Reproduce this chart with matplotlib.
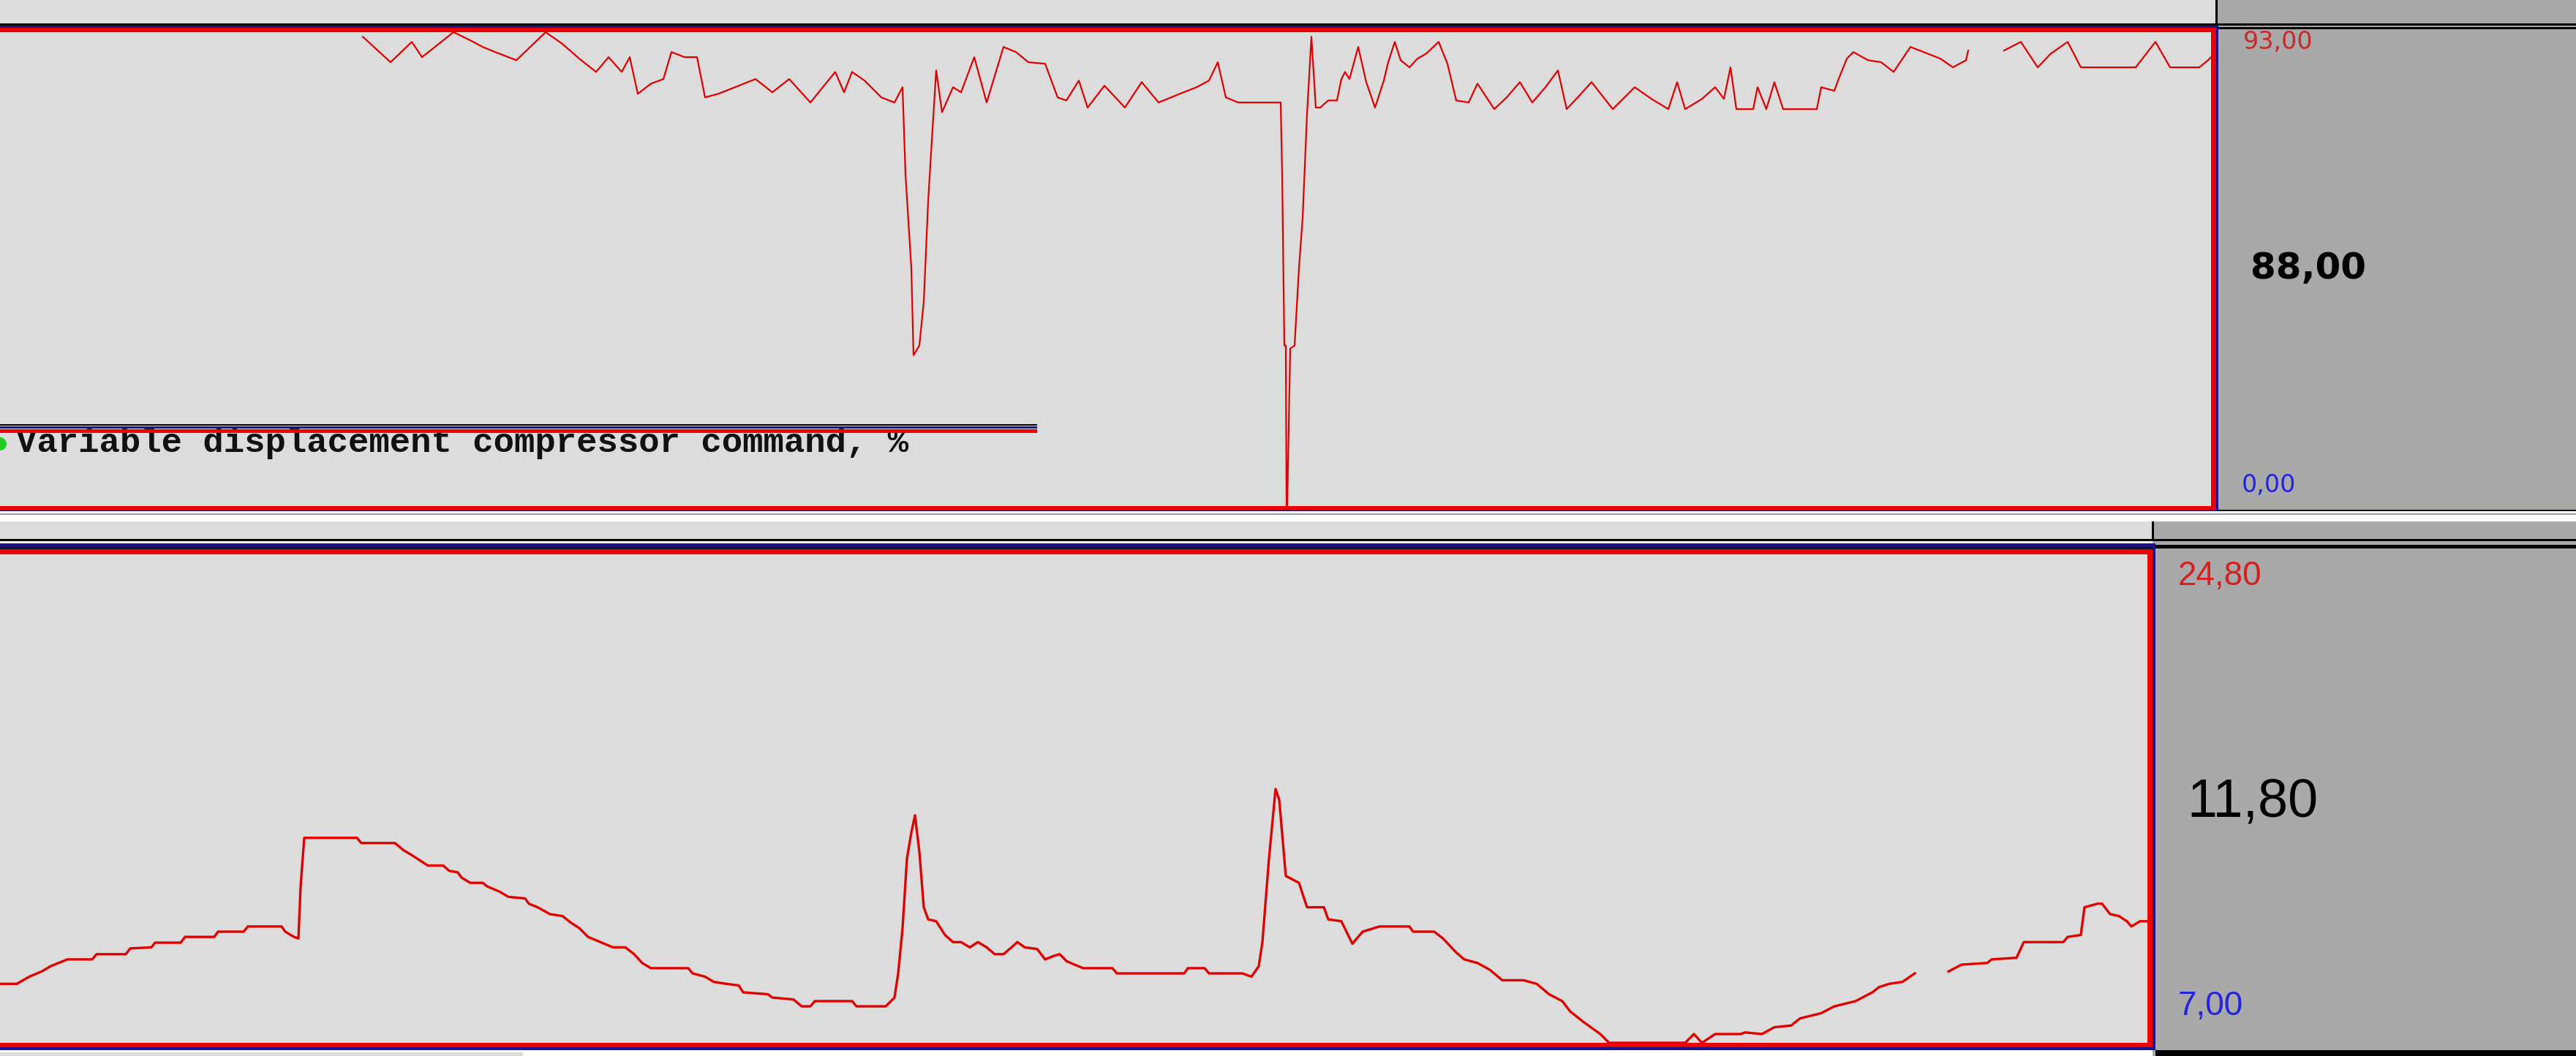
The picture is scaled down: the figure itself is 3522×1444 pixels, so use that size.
import numpy as np
import matplotlib
matplotlib.use("Agg")
import matplotlib.pyplot as plt
from matplotlib.patches import Rectangle, Ellipse

# ---- data (time in s) ----
t_top = [49.6, 53.4, 56.3, 57.7, 62.0, 64.3, 66.0, 67.7, 70.6, 74.6, 76.9, 79.2, 81.5, 83.2,
         85.0, 86.1, 87.2, 89.0, 90.7, 91.8, 93.6, 95.3, 96.4, 98.2, 101.0, 103.3, 105.6,
         107.9, 110.8, 114.2, 115.4, 116.5, 118.2, 120.5, 122.3, 123.4, 123.8, 124.6, 124.9,
         125.7, 126.3, 126.9, 127.4, 128.0, 128.8, 130.3, 131.4, 133.2, 134.9, 137.2, 138.9,
         140.6, 142.9, 144.6, 145.8, 147.5, 148.7, 151.0, 153.8, 156.1, 158.4, 161.3, 163.6,
         165.3, 166.5, 167.6, 169.3, 175.1, 175.3, 175.6, 175.8, 175.9, 176.0, 176.4, 177.0,
         177.6, 178.1, 178.7, 179.3, 179.9, 180.5, 181.6, 182.8, 183.4, 183.9, 184.5, 185.7,
         186.8, 188.0, 189.2, 189.8, 190.7, 191.5, 192.7, 193.8, 195.0, 196.7, 197.9, 199.1,
         200.8, 202.0, 204.3, 206.0, 207.8, 209.5, 211.3, 213.0, 214.2, 215.9, 217.6, 220.5,
         223.5, 225.8, 228.1, 229.3, 230.4, 232.7, 234.5, 235.7, 236.6, 237.4, 239.7, 240.3,
         241.5, 242.6, 243.8, 248.4, 249.0, 250.8, 251.3, 252.5, 253.4, 255.4, 257.2, 258.9,
         261.2, 263.0, 265.3, 267.0, 268.8, 269.1, 271.5, 274.0, 276.3, 278.6, 280.4, 282.7,
         284.5, 292.0, 294.7, 296.7, 300.7, 301.9, 302.5]
v_top = [92.1, 87.1, 91.1, 88.1, 93.0, 91.4, 90.1, 89.1, 87.5, 93.0, 90.7, 87.8, 85.2, 88.1,
         85.2, 88.1, 80.9, 82.9, 83.8, 89.1, 88.1, 88.1, 80.2, 80.9, 82.5, 83.8, 81.2,
         83.8, 79.2, 85.2, 81.2, 85.2, 83.5, 80.2, 79.2, 82.2, 65.1, 46.7, 29.6,
         31.5, 40.1, 59.8, 71.7, 85.5, 77.3, 82.2, 81.2, 88.1, 79.2, 90.1, 89.1,
         87.1, 86.8, 80.2, 79.6, 83.5, 78.2, 82.5, 78.2, 83.2, 79.2, 80.9, 82.2,
         83.5, 87.1, 80.2, 79.2, 79.2, 65.1, 31.5, 31.5, 0.0, 0.0, 30.9, 31.5,
         46.7, 56.5, 76.9, 92.1, 78.2, 78.2, 79.6, 79.6, 83.8, 85.2, 83.8, 90.1,
         83.2, 78.2, 83.5, 87.1, 91.1, 87.5, 86.1, 87.8, 88.8, 91.1, 86.8, 79.6,
         79.2, 82.9, 77.9, 80.2, 83.2, 79.2, 82.2, 85.5, 77.9, 80.5, 83.2, 77.9,
         82.2, 79.9, 77.9, 83.2, 77.9, 79.9, 82.2, 79.9, 86.1, 77.9, 77.9, 82.2,
         77.9, 83.2, 77.9, 77.9, 82.2, 81.5, 83.5, 87.8, 89.1, 87.5, 87.1, 85.2,
         90.1, 89.1, 87.8, 86.1, 87.5, 89.4, np.nan, 89.4, 91.1, 86.1, 88.8, 91.1,
         86.1, 86.1, 91.1, 86.1, 86.1, 87.5, 88.4]

t_bot = [0.0, 2.3, 4.0, 5.7, 6.9, 8.0, 9.2, 12.6, 13.2, 17.2, 17.8, 20.7, 21.2, 24.7, 25.3,
         29.3, 29.8, 33.3, 33.9, 38.5, 39.0, 40.2, 40.8, 41.1, 41.6, 48.8, 49.4, 54.0, 55.1,
         56.3, 57.4, 58.5, 60.6, 61.4, 62.6, 63.1, 64.3, 66.0, 66.6, 68.3, 69.5, 71.8, 72.3,
         73.5, 75.2, 76.9, 78.1, 79.2, 80.4, 82.1, 83.8, 85.5, 86.7, 87.8, 89.0, 94.1, 94.7,
         96.4, 97.6, 99.3, 101.0, 101.6, 105.0, 105.6, 108.5, 109.6, 110.8, 111.4, 116.5,
         117.1, 121.1, 122.3, 122.8, 123.4, 124.0, 124.6, 125.1, 125.7, 126.3, 126.9, 128.0,
         129.2, 130.3, 131.4, 132.6, 133.7, 134.9, 136.0, 137.2, 138.3, 139.1, 140.1, 141.8,
         142.9, 144.1, 144.9, 145.8, 146.9, 148.1, 152.1, 152.7, 161.9, 162.4, 164.7, 165.3,
         169.9, 171.1, 172.1, 172.6, 173.5, 174.4, 174.9, 175.8, 177.6, 178.7, 181.0, 181.6,
         183.4, 184.9, 186.3, 188.6, 192.7, 193.2, 196.1, 197.3, 199.1, 200.2, 202.0, 203.7,
         205.4, 208.3, 210.1, 211.8, 213.6, 214.7, 216.5, 218.8, 220.0, 230.4, 231.6, 232.7,
         234.5, 238.0, 238.6, 240.9, 242.6, 244.9, 246.1, 249.0, 250.8, 253.7, 256.0, 256.9,
         258.3, 260.1, 261.8, 264.0, 266.4, 268.2, 271.7, 272.3, 275.7, 276.7, 282.1, 282.7,
         284.5, 285.0, 286.8, 287.4, 288.5, 289.7, 290.8, 291.4, 292.6, 293.8]
v_bot = [9.15, 9.15, 9.41, 9.60, 9.79, 9.91, 10.04, 10.04, 10.23, 10.23, 10.44, 10.48, 10.65,
         10.65, 10.86, 10.86, 11.05, 11.05, 11.24, 11.24, 11.05, 10.86, 10.80, 12.70, 14.47,
         14.47, 14.28, 14.28, 14.03, 13.84, 13.65, 13.46, 13.46, 13.27, 13.21, 13.02, 12.83,
         12.83, 12.70, 12.51, 12.32, 12.26, 12.07, 11.94, 11.69, 11.62, 11.37, 11.18, 10.86,
         10.67, 10.48, 10.48, 10.23, 9.91, 9.72, 9.72, 9.53, 9.41, 9.22, 9.15, 9.09, 8.84,
         8.77, 8.65, 8.58, 8.33, 8.33, 8.52, 8.52, 8.33, 8.33, 8.65, 9.53, 11.18, 13.71,
         14.66, 15.29, 13.96, 11.94, 11.50, 11.43, 10.93, 10.67, 10.67, 10.48, 10.67, 10.48,
         10.23, 10.23, 10.48, 10.67, 10.48, 10.42, 10.04, 10.17, 10.23, 9.98, 9.85, 9.72,
         9.72, 9.53, 9.53, 9.72, 9.72, 9.53, 9.53, 9.41, 9.79, 10.67, 13.71, 16.25, 15.86,
         13.08, 12.83, 11.94, 11.94, 11.50, 11.43, 10.61, 11.05, 11.24, 11.24, 11.05, 11.05,
         10.80, 10.29, 10.04, 9.91, 9.66, 9.28, 9.28, 9.15, 8.77, 8.52, 8.14, 7.76, 7.32,
         7.00, 7.00, 7.32, 7.00, 7.32, 7.32, 7.38, 7.32, 7.57, 7.63, 7.89, 8.08, 8.33, 8.52,
         8.84, 9.03, 9.15, 9.22, 9.53, np.nan, 9.60, 9.85, 9.91, 10.04, 10.10, 10.67, 10.67,
         10.86, 10.93, 11.94, 12.07, 12.07, 11.69, 11.62, 11.43, 11.24, 11.43, 11.43]

top_min, top_max, top_now = "0,00", "93,00", "88,00"
bot_min, bot_max, bot_now = "7,00", "24,80", "11,80"
legend_text = "Variable displacement compressor command, %"

# ---- layout (pixels, y measured from the top) ----
W, H = 3522, 1444
PANEL = "#dcdcdc"
SIDE = "#a9a9a9"
RED = "#ee0000"
NAVY = "#1a1490"
LINE = "#e00000"

fig = plt.figure(figsize=(W / 100, H / 100), dpi=100)
fig.patch.set_facecolor("white")


def box(x, y, w, h, color, z=1):
    fig.patches.append(Rectangle((x / W, 1 - (y + h) / H), w / W, h / H,
                                 transform=fig.transFigure, facecolor=color,
                                 edgecolor="none", zorder=z))


def add_plot(x, y, w, h):
    ax = fig.add_axes([x / W, 1 - (y + h) / H, w / W, h / H], zorder=2)
    ax.set_facecolor(PANEL)
    ax.set_xticks([])
    ax.set_yticks([])
    for s in ax.spines.values():
        s.set_visible(False)
    return ax


def label(x, y, s, **kw):
    fig.text(x / W, 1 - y / H, s, va="baseline", ha="left", zorder=5, **kw)


# background strips
box(0, 0, 3030, 32, PANEL)
box(3030, 0, 492, 35, SIDE)
box(3029, 0, 3, 33, "black")
box(3033, 35, 489, 664, SIDE)
box(0, 704, W, 9, "white")
box(0, 713, 2943, 25, PANEL)
box(2943, 713, 579, 731, SIDE)
box(2942, 713, 3, 25, "black")
box(0, 1439, 715, 5, PANEL)

# top panel
ax1 = add_plot(0, 44, 3023, 648)
ax1.plot(t_top, v_top, color=LINE, lw=1.6)
ax1.set_xlim(0, 302.3)
ax1.set_ylim(0, 93)

box(0, 32, W, 3, "black", 6)
box(0, 35, 3033, 3, NAVY, 6)
box(3033, 37, 489, 3, "black", 6)
box(0, 38, 3030, 6, RED, 6)
box(3023, 38, 7, 659, RED, 6)
box(0, 692, 3030, 5, RED, 6)
box(3030, 35, 3, 664, NAVY, 6)
box(0, 697, 3033, 2, NAVY, 6)
box(3033, 697, 489, 2, "black", 6)
box(0, 702, W, 2, "#9a9aa8", 6)

# legend of the top panel
box(0, 580, 1418, 2, "black", 6)
box(0, 583, 1418, 3, NAVY, 6)
box(0, 587, 1418, 5, RED, 6)
fig.patches.append(Ellipse((0, 1 - 607 / H), 18 / W, 18 / H, transform=fig.transFigure,
                           facecolor="#22cc22", edgecolor="none", zorder=6))
label(22, 618, legend_text, family=["Liberation Mono", "DejaVu Sans Mono"],
      fontweight="bold", fontsize=34, color="#111111")

label(3067, 67, top_max, family="DejaVu Sans", fontsize=24, color="#c42a2a")
label(3077, 381, top_now, family="DejaVu Sans", fontweight="bold", fontsize=36,
      color="black")
label(3065, 673, top_min, family="DejaVu Sans", fontsize=24, color="#2424e0")

# bottom panel
ax2 = add_plot(0, 758, 2936, 668)
ax2.plot(t_bot, v_bot, color=LINE, lw=2.4)
ax2.set_xlim(0, 293.6)
ax2.set_ylim(7.0, 24.8)

box(0, 737, W, 3, "black", 6)
box(0, 743, 2947, 5, NAVY, 6)
box(2947, 745, 575, 5, "black", 6)
box(0, 748, 2947, 3, "#101030", 6)
box(0, 751, 2943, 7, RED, 6)
box(2936, 751, 7, 681, RED, 6)
box(0, 1426, 2943, 6, RED, 6)
box(2943, 743, 4, 693, NAVY, 6)
box(0, 1432, 2947, 4, NAVY, 6)
box(2947, 1436, 575, 8, "black", 6)

narrow = ["Liberation Sans Narrow", "Liberation Sans", "DejaVu Sans"]
label(2978, 800, bot_max, family=narrow, fontsize=33, color="#d42020")
label(2990, 1117, bot_now, family=narrow, fontsize=53, color="black")
label(2978, 1388, bot_min, family=narrow, fontsize=33, color="#2424e0")

fig.savefig("out.png", dpi=100, facecolor=fig.get_facecolor())
